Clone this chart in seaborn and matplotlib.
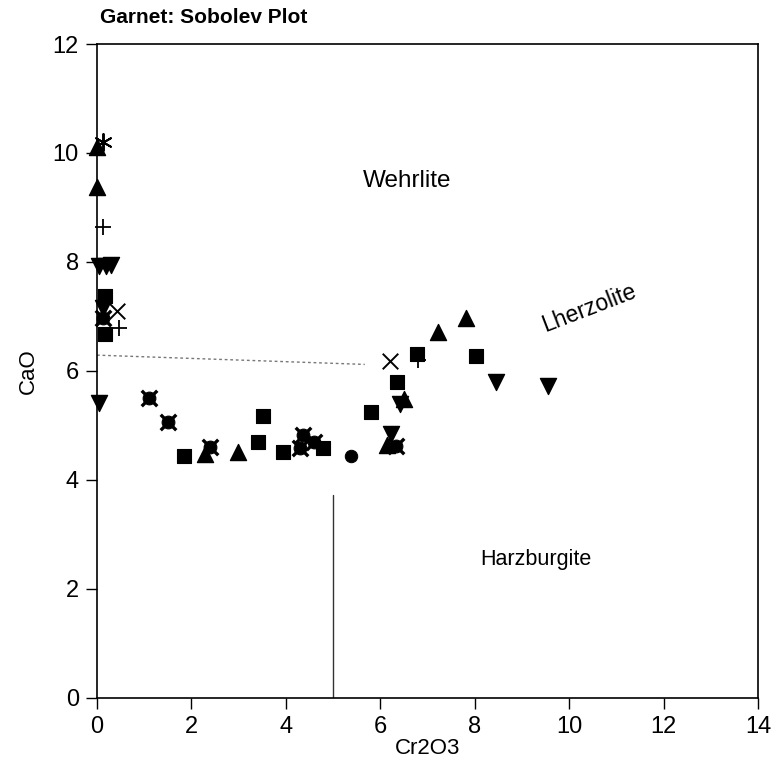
import matplotlib
matplotlib.use("Agg")
import matplotlib.pyplot as plt
import seaborn as sns
import pandas as pd

sns.set_style("ticks")
plt.rcParams['font.family'] = ['Liberation Sans', 'DejaVu Sans']
plt.rcParams['text.color'] = 'black'
plt.rcParams['axes.labelcolor'] = 'black'
plt.rcParams['xtick.color'] = 'black'
plt.rcParams['ytick.color'] = 'black'

# ---- data (Cr2O3, CaO) per symbol group ----
square_x = [0.17, 0.17, 1.84, 3.51, 3.40, 3.93, 4.78, 5.81, 6.36, 6.77, 8.03]
square_y = [7.37, 6.67, 4.43, 5.17, 4.69, 4.52, 4.58, 5.24, 5.79, 6.32, 6.27]

tri_up_x = [0.00, 0.00, 2.28, 2.98, 6.51, 6.15, 7.23, 7.82]
tri_up_y = [10.11, 9.38, 4.47, 4.52, 5.48, 4.65, 6.71, 6.97]

tri_dn_x = [0.05, 0.18, 0.30, 0.13, 0.04, 6.41, 6.22, 8.44, 9.56]
tri_dn_y = [7.93, 7.93, 7.95, 7.15, 5.42, 5.39, 4.85, 5.79, 5.72]

starcirc_x = [0.13, 1.10, 1.50, 2.39, 4.36, 4.29, 4.59, 6.34]
starcirc_y = [6.98, 5.50, 5.07, 4.61, 4.82, 4.58, 4.69, 4.63]

circle_x = [5.37]
circle_y = [4.43]

cross_x = [0.42, 6.21]
cross_y = [7.10, 6.18]

plus_x = [0.13, 0.47, 6.79]
plus_y = [8.64, 6.78, 6.21]

aster_x = [0.13]
aster_y = [10.20]

x_ticks = [0, 2, 4, 6, 8, 10, 12, 14]
y_ticks = [0, 2, 4, 6, 8, 10, 12]

# boundary lines
harz_x = [5.0, 5.0]
harz_y = [0.0, 3.73]
lherz_x = [0.0, 5.67]
lherz_y = [6.29, 6.12]

fig = plt.figure(figsize=(7.76, 7.72), dpi=100)
ax = fig.add_axes([0.125, 0.096, 0.852, 0.847])

def df(x, y):
    return pd.DataFrame({"Cr2O3": x, "CaO": y})

ax.plot(harz_x, harz_y, color="#333333", lw=1.0, zorder=1)
ax.plot(lherz_x, lherz_y, color="#777777", lw=1.0, ls=(0, (2, 2)), zorder=1)

kw = dict(x="Cr2O3", y="CaO", ax=ax, color="black", legend=False, zorder=3, clip_on=False)
sns.scatterplot(data=df(square_x, square_y), marker="s", s=100, edgecolor="black", **kw)
sns.scatterplot(data=df(tri_up_x, tri_up_y), marker="^", s=135, edgecolor="black", **kw)
sns.scatterplot(data=df(tri_dn_x, tri_dn_y), marker="v", s=135, edgecolor="black", **kw)
sns.scatterplot(data=df(starcirc_x, starcirc_y), marker="o", s=85, edgecolor="black", **kw)
sns.scatterplot(data=df(starcirc_x, starcirc_y), marker="x", s=125, linewidth=2.4, **kw)
sns.scatterplot(data=df(circle_x, circle_y), marker="o", s=80, edgecolor="black", **kw)
sns.scatterplot(data=df(cross_x, cross_y), marker="x", s=125, linewidth=1.4, **kw)
sns.scatterplot(data=df(plus_x, plus_y), marker="+", s=125, linewidth=1.3, **kw)
sns.scatterplot(data=df(aster_x, aster_y), marker=(6, 2, 0), s=150, linewidth=1.4, **kw)

ax.set_xlim(0, 14)
ax.set_ylim(0, 12)
ax.set_xticks(x_ticks)
ax.set_yticks(y_ticks)
ax.tick_params(direction="out", length=8, width=1, labelsize=17, pad=5, colors="black")
for sp in ax.spines.values():
    sp.set_visible(True)
    sp.set_linewidth(1.2)
    sp.set_color("black")
ax.set_xlabel("Cr2O3", fontsize=16, labelpad=0)
ax.set_ylabel("CaO", fontsize=16, labelpad=10)

ax.text(6.57, 9.48, "Wehrlite", fontsize=17.5, ha="center", va="center")
ax.text(9.30, 2.54, "Harzburgite", fontsize=15.5, ha="center", va="center")
ax.text(10.42, 7.15, "Lherzolite", fontsize=16.5, ha="center", va="center", rotation=21)

fig.text(0.129, 0.977, "Garnet: Sobolev Plot", fontsize=15, fontweight="bold", ha="left", va="center")

fig.savefig("out.png", dpi=100)
